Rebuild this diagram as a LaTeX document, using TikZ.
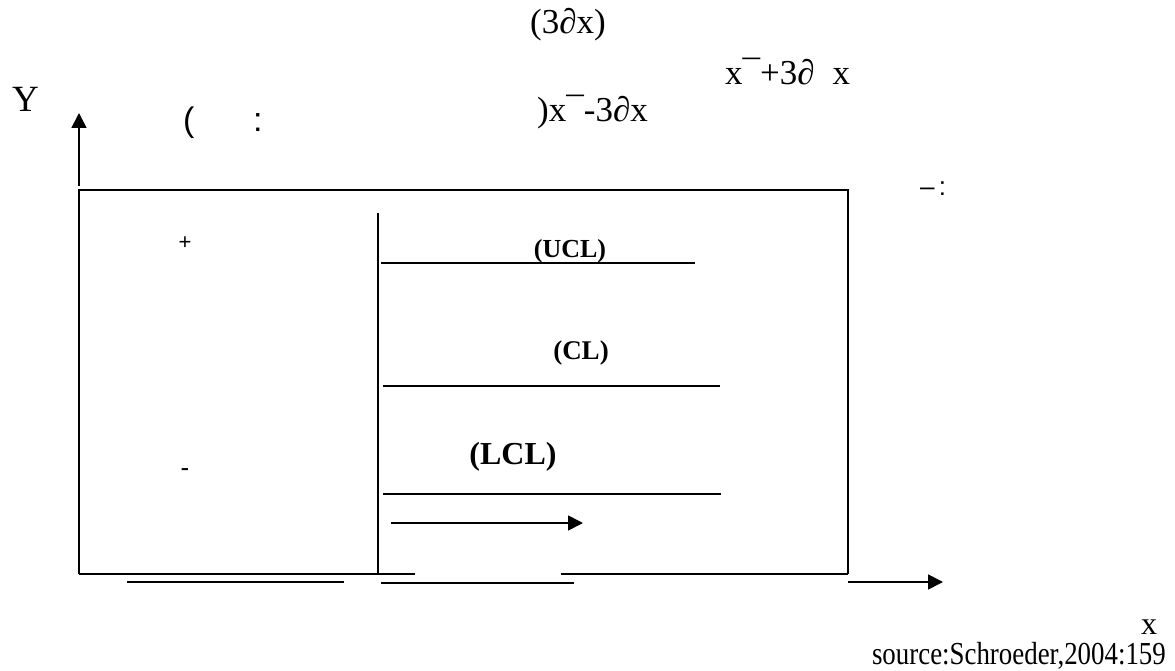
\documentclass[tikz,border=0pt]{standalone}
\usepackage{fontspec}
\setmainfont{Liberation Serif}
\newfontfamily\sansf{Liberation Sans}
\usetikzlibrary{arrows.meta}
\tikzset{
  ln/.style={line width=1.7pt},
  arr/.style={line width=1.7pt,-{Triangle[width=15pt,length=15pt]}},
  big/.style={inner sep=0pt,font=\fontsize{35}{40}\selectfont},
  bold/.style={inner sep=0pt,font=\fontsize{#1}{#1}\selectfont\bfseries},
  sans/.style={inner sep=0pt,font=\fontsize{#1}{#1}\selectfont\sansf},
}
\begin{document}
\begin{tikzpicture}[x=1pt,y=-1pt]
\useasboundingbox (0,0) rectangle (1175,671);
% coordinates
\coordinate (bl) at (79,574);
\coordinate (tl) at (79,190);
\coordinate (tr) at (848,190);
\coordinate (br) at (848,574);
% box (bottom broken)
\draw[ln] (bl) -- (tl) -- (tr) -- (br);
\draw[ln] (bl) -- (415,574);
\draw[ln] (561,574) -- (br);
% inner vertical
\draw[ln] (378,213) -- (378,574);
% control lines
\draw[ln] (381,263) -- (695,263);
\draw[ln] (383,386) -- (720,386);
\draw[ln] (383,494) -- (721,494);
\draw[arr] (391,523) -- (583,523);
% under lines
\draw[ln] (127,582) -- (344,582);
\draw[ln] (381,583) -- (574,583);
% axes
\draw[arr] (79,186) -- (79,113);
\draw[arr] (848,582) -- (943,582);
% texts
\node[big,anchor=base west] (t1) at (530,34) {(3∂x)};
\node[big,anchor=base west] (t2) at (725,85) {x¯+3∂\hspace{18pt}x};
\node[big,anchor=base west] (t3) at (537,122) {)x¯-3∂x};
\node[inner sep=0pt,font=\fontsize{37}{40}\selectfont,anchor=base west] (ty) at (12,112) {Y};
\node[sans=34,anchor=base west] (p1) at (183,132) {(};
\node[sans=34,anchor=base west] (c1) at (253,132) {:};
\node[sans=26,anchor=base west] (mc) at (920,196) {–\,:};
\node[sans=22] (plus) at (185,243) {+};
\node[sans=26] (minus) at (185,473) {-};
\node[bold=26,anchor=base] (ucl) at (570,258) {(UCL)};
\node[bold=27,anchor=base] (cl) at (581,359) {(CL)};
\node[bold=32,anchor=base] (lcl) at (513,464) {(LCL)};
\node[inner sep=0pt,font=\fontsize{32}{36}\selectfont,anchor=base] (tx) at (1149,634) {x};
\node[inner sep=0pt,anchor=base east,font=\fontsize{32}{36}\selectfont] (src) at (1166,664) {\scalebox{0.84}[1]{source:Schroeder,2004:159}};
\end{tikzpicture}
\end{document}
